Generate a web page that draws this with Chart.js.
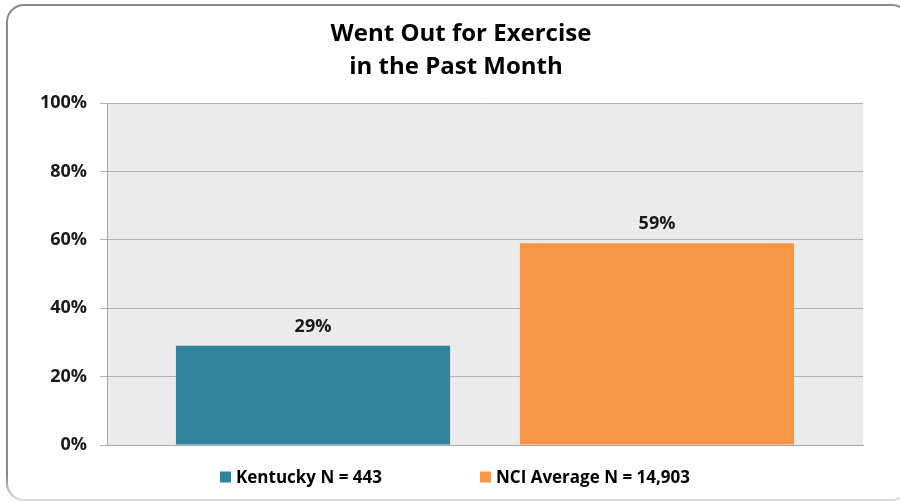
<!DOCTYPE html>
<html>
<head>
<meta charset="utf-8">
<script src="https://cdn.jsdelivr.net/npm/chart.js@4/dist/chart.umd.min.js"></script>
<style>
  html, body { margin: 0; padding: 0; background: #ffffff; }
  #wrap { width: 900px; height: 502px; position: relative; }
</style>
</head>
<body>
<div id="wrap"><canvas id="c" width="900" height="502"></canvas></div>
<script>
const titleLines = ['Went Out for Exercise', 'in the Past Month'];
const categories = ['Went Out for Exercise in the Past Month'];
const seriesLabels = ['Kentucky N = 443', 'NCI Average N = 14,903'];
const kentuckyValues = [29];
const nciValues = [59];
const yTickMin = 0;
const yTickMax = 100;
const yTickStep = 20;

const FONT = '"Open Sans", "Liberation Sans", sans-serif';

const framePlugin = {
  id: 'frame',
  beforeDraw(chart) {
    const ctx = chart.ctx;
    const a = chart.chartArea;
    ctx.save();
    ctx.fillStyle = '#ffffff';
    ctx.fillRect(0, 0, chart.width, chart.height);
    const g = ctx.createLinearGradient(0, 5, 0, 500);
    g.addColorStop(0, '#8a8a8a');
    g.addColorStop(0.95, '#8a8a8a');
    g.addColorStop(1, '#dcdcdc');
    ctx.strokeStyle = g;
    ctx.lineWidth = 2;
    ctx.beginPath();
    ctx.roundRect(7, 5, 902, 495, 17);
    ctx.stroke();
    ctx.fillStyle = '#ebebeb';
    ctx.fillRect(a.left, a.top, a.right - a.left, a.bottom - a.top);
    ctx.restore();
  },
  afterDraw(chart) {
    const ctx = chart.ctx;
    ctx.save();
    // Title
    ctx.fillStyle = '#000000';
    ctx.font = 'bold 24px ' + FONT;
    ctx.textAlign = 'center';
    ctx.textBaseline = 'middle';
    ctx.fillText(titleLines[0], 461, 34);
    ctx.fillText(titleLines[1], 456, 67);
    // Legend
    ctx.font = 'bold 17px ' + FONT;
    ctx.textAlign = 'left';
    const box = 11, gapBT = 5, itemGap = 98;
    const items = chart.data.datasets.map(ds => ({ label: ds.label, color: ds.backgroundColor, w: ctx.measureText(ds.label).width }));
    let total = 0;
    items.forEach((it, i) => { total += box + gapBT + it.w + (i > 0 ? itemGap : 0); });
    let x = 455 - total / 2;
    const y = 477;
    items.forEach((it, i) => {
      if (i > 0) x += itemGap;
      ctx.fillStyle = it.color;
      ctx.fillRect(x, y - box / 2, box, box);
      x += box + gapBT;
      ctx.fillStyle = '#000000';
      ctx.fillText(it.label, x, y + 1);
      x += it.w;
    });
    ctx.restore();
  },
  afterDatasetsDraw(chart) {
    const ctx = chart.ctx;
    ctx.save();
    ctx.fillStyle = '#1a1a1a';
    ctx.font = 'bold 18px ' + FONT;
    ctx.textAlign = 'center';
    ctx.textBaseline = 'middle';
    chart.data.datasets.forEach((ds, di) => {
      const meta = chart.getDatasetMeta(di);
      meta.data.forEach((el, i) => {
        ctx.fillText(Math.round(ds.data[i]) + '%', el.x, el.y - 19);
      });
    });
    ctx.restore();
  }
};

new Chart(document.getElementById('c'), {
  type: 'bar',
  data: {
    labels: categories,
    datasets: [
      { label: seriesLabels[0], data: kentuckyValues, backgroundColor: '#31849b', borderWidth: 0 },
      { label: seriesLabels[1], data: nciValues, backgroundColor: '#f79646', borderWidth: 0 }
    ]
  },
  options: {
    responsive: false,
    animation: false,
    devicePixelRatio: 1,
    layout: { padding: { top: 103, right: 37, left: 0, bottom: 0 } },
    datasets: { bar: { categoryPercentage: 0.91, barPercentage: 0.797 } },
    plugins: {
      legend: { display: false },
      title: { display: false },
      tooltip: { enabled: false }
    },
    scales: {
      x: {
        ticks: { display: false },
        grid: { display: false },
        border: { display: true, color: '#a6a6a6', width: 1 },
        afterFit(scale) { scale.height = 57; }
      },
      y: {
        min: yTickMin,
        max: yTickMax,
        ticks: {
          stepSize: yTickStep,
          padding: 13,
          color: '#1a1a1a',
          font: { family: FONT, size: 18, weight: 'bold' },
          callback: v => v + '%'
        },
        grid: { color: '#b3b3b3', lineWidth: 1, tickLength: 7, drawTicks: true },
        border: { display: true, color: '#a6a6a6', width: 1 },
        afterFit(scale) { scale.width = 107; }
      }
    }
  },
  plugins: [framePlugin]
});
</script>
</body>
</html>
